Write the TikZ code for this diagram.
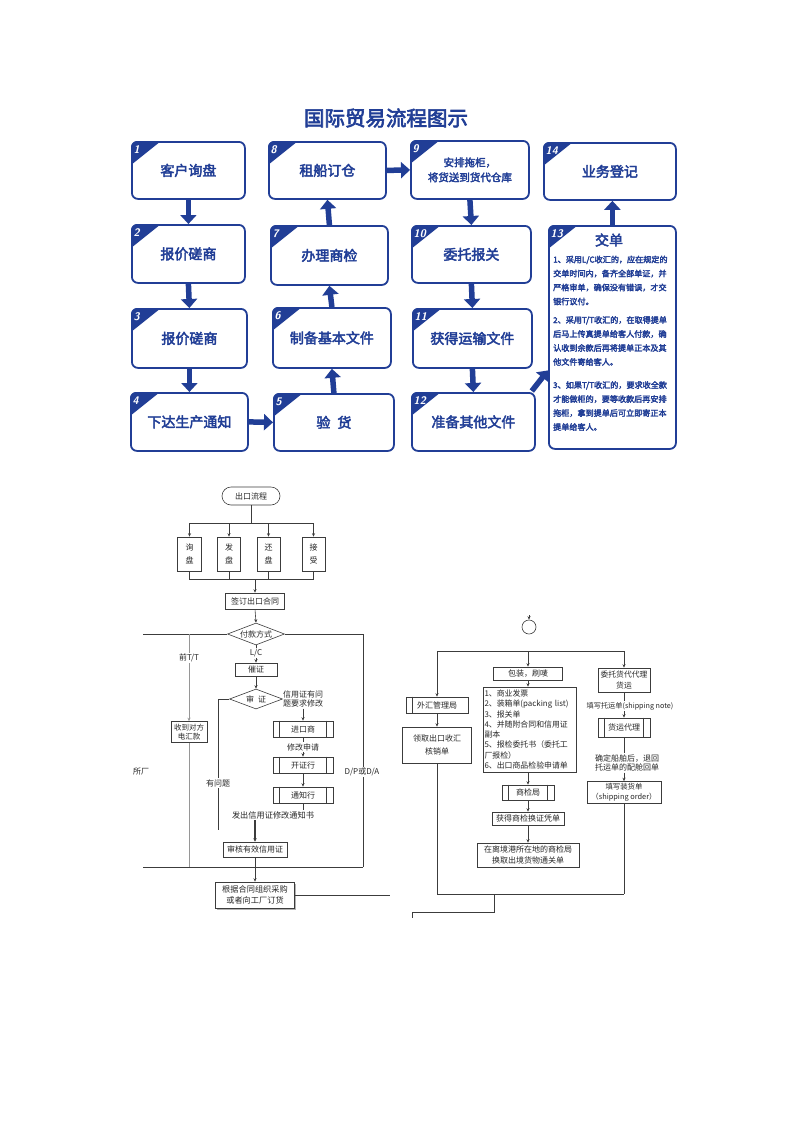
\documentclass[tikz,border=0pt]{standalone}
\usepackage{fontspec}
\setmainfont{Noto Sans CJK SC}
\newfontfamily\heavy{Noto Sans CJK SC}[FakeBold=3]
\usetikzlibrary{shapes.geometric,arrows.meta,calc,shadows}
\definecolor{tblue}{RGB}{33,62,150}
\definecolor{fline}{RGB}{60,60,60}
\definecolor{ftext}{RGB}{40,40,40}
\definecolor{gline}{RGB}{150,150,150}
\newcommand\corner[2]{%
  \begin{scope}
    \clip[rounded corners=6pt] (#1.north west) rectangle (#1.south east);
    \fill[tblue] (#1.north west) -- ++(30,0) -- ++(-30,24) -- cycle;
  \end{scope}
  \node[numlab] at ($(#1.north west)+(2.5,8.5)$) {#2};
}
\newcommand\ppbars[1]{%
  \draw[fl] ($(#1.north west)+(7,0)$) -- ($(#1.south west)+(7,0)$);
  \draw[fl] ($(#1.north east)+(-7,0)$) -- ($(#1.south east)+(-7,0)$);
}
\newcommand\ppleft[1]{%
  \draw[fl] ($(#1.north west)+(7,0)$) -- ($(#1.south west)+(7,0)$);
}
\begin{document}
\begin{tikzpicture}[x=1pt,y=-1pt,
  tbox/.style={draw=tblue, line width=1.8pt, rounded corners=6pt, fill=white,
    inner sep=0pt, text=tblue, font=\heavy\fontsize{14}{16}\selectfont, align=center, anchor=north west},
  numlab/.style={anchor=west, text=white, inner sep=0pt, font=\sffamily\bfseries\itshape\fontsize{11}{11}\selectfont},
  barrow/.style={tblue, line width=5.5pt, -{Triangle[width=16pt,length=9pt]}},
  fl/.style={draw=fline, line width=0.6pt},
  gl/.style={draw=gline, line width=0.6pt},
  farrow/.style={fl, -{Stealth[length=3.5pt,width=3pt]}},
  garrow/.style={gl, -{Stealth[length=3.5pt,width=3pt]}},
  fbox/.style={draw=fline, line width=0.6pt, fill=white, inner sep=1pt,
    font=\fontsize{8}{9.5}\selectfont, text=ftext, align=center},
  lab/.style={font=\fontsize{8}{9.5}\selectfont, text=ftext, inner sep=1pt, align=center},
  wlab/.style={lab, fill=white},
  para/.style={anchor=north west, inner sep=0pt, align=left, text=tblue,
    font=\heavy\fontsize{8.1}{14}\selectfont}
]
\path[use as bounding box, fill=white] (0,0) rectangle (793,1122);

% ---------------- top infographic ----------------
\node[font=\heavy\fontsize{20.5}{22}\selectfont, text=tblue] (title) at (386,118) {国际贸易流程图示};

\node[tbox, minimum width=113pt, minimum height=57pt] (b1) at (131,141) {客户询盘};
\node[tbox, minimum width=113pt, minimum height=58pt] (b2) at (131,224) {报价磋商};
\node[tbox, minimum width=115pt, minimum height=59pt] (b3) at (131,308) {报价磋商};
\node[tbox, minimum width=117pt, minimum height=58pt] (b4) at (130,392) {下达生产通知};
\node[tbox, minimum width=120pt, minimum height=57pt] (b5) at (273,393) {验\hspace{7pt}货};
\node[tbox, minimum width=118pt, minimum height=60pt] (b6) at (272,307) {制备基本文件};
\node[tbox, minimum width=117pt, minimum height=59pt] (b7) at (270,225) {办理商检};
\node[tbox, minimum width=117pt, minimum height=57pt] (b8) at (268,141) {租船订仓};
\node[tbox, minimum width=118pt, minimum height=58pt, font=\heavy\fontsize{10.5}{15}\selectfont] (b9) at (410,140) {安排拖柜，\\将货送到货代仓库};
\node[tbox, minimum width=119pt, minimum height=57pt] (b10) at (411,225) {委托报关};
\node[tbox, minimum width=119pt, minimum height=59pt] (b11) at (412,308) {获得运输文件};
\node[tbox, minimum width=123pt, minimum height=58pt] (b12) at (411,392) {准备其他文件};
\node[tbox, minimum width=127pt, minimum height=223pt] (b13) at (548,225) {};
\node[tbox, minimum width=132pt, minimum height=57pt] (b14) at (543,142) {业务登记};

\corner{b1}{1}\corner{b2}{2}\corner{b3}{3}\corner{b4}{4}\corner{b5}{5}
\corner{b6}{6}\corner{b7}{7}\corner{b8}{8}\corner{b9}{9}\corner{b10}{10}
\corner{b11}{11}\corner{b12}{12}\corner{b13}{13}\corner{b14}{14}

\node[text=tblue, font=\heavy\fontsize{14}{16}\selectfont] (t13) at (609,240) {交单};
\node[para] (p1) at (553,255.5) {1、采用L/C收汇的，应在规定的\\交单时间内，备齐全部单证，并\\严格审单，确保没有错误，才交\\银行议付。};
\node[para] (p2) at (553,316) {2、采用T/T收汇的，在取得提单\\后马上传真提单给客人付款，确\\认收到余款后再将提单正本及其\\他文件寄给客人。};
\node[para] (p3) at (553,381) {3、如果T/T收汇的，要求收全款\\才能做柜的，要等收款后再安排\\拖柜，拿到提单后可立即寄正本\\提单给客人。};

\draw[barrow] (b1.south) -- (b2.north);
\draw[barrow] (b2.south) -- (b3.north);
\draw[barrow] (b3.south) -- (b4.north);
\draw[barrow] (b4.east) -- (b5.west);
\draw[barrow] (b5.north) -- (b6.south);
\draw[barrow] (b6.north) -- (b7.south);
\draw[barrow] (b7.north) -- (b8.south);
\draw[barrow] (b8.east) -- (b9.west);
\draw[barrow] (b9.south) -- (b10.north);
\draw[barrow] (b10.south) -- (b11.north);
\draw[barrow] (b11.south) -- (b12.north);
\draw[barrow] ($(b12.north east)+(-4,-1)$) -- ($(b13.west)+(0,33)$);
\draw[barrow] (b13.north) -- (b13.north |- b14.south);

% ---------------- bottom-left flowchart ----------------
\node[fbox, rounded corners=9pt, minimum width=58pt, minimum height=18pt] (t0) at (251,496) {出口流程};
\coordinate (j1) at (251,523);
\coordinate (h1) at (189.5,523);
\coordinate (h4) at (313.5,523);
\draw[fl] (t0.south) -- (j1);
\draw[fl] (h1) -- (h4);
\node[fbox, minimum width=24pt, minimum height=34pt, font=\fontsize{8}{13}\selectfont] (a1) at (189.5,554) {询\\盘};
\node[fbox, minimum width=23pt, minimum height=34pt, font=\fontsize{8}{13}\selectfont] (a2) at (229,554) {发\\盘};
\node[fbox, minimum width=23pt, minimum height=34pt, font=\fontsize{8}{13}\selectfont] (a3) at (268.5,554) {还\\盘};
\node[fbox, minimum width=23pt, minimum height=34pt, font=\fontsize{8}{13}\selectfont] (a4) at (313.5,554) {接\\受};
\draw[farrow] (a1.north |- j1) -- (a1.north);
\draw[farrow] (a2.north |- j1) -- (a2.north);
\draw[farrow] (a3.north |- j1) -- (a3.north);
\draw[farrow] (a4.north |- j1) -- (a4.north);
\coordinate (j2) at (255,579);
\draw[fl] (a1.south) -- (a1.south |- j2) -- (a4.south |- j2) -- (a4.south);
\draw[fl] (a2.south) -- (a2.south |- j2);
\draw[fl] (a3.south) -- (a3.south |- j2);
\node[fbox, minimum width=59pt, minimum height=16pt] (c1) at (255,601) {签订出口合同};
\draw[farrow] (j2) -- (c1.north);
\node[fbox, shape=diamond, inner sep=0pt, aspect=2.6, minimum width=57pt, minimum height=22pt] (d1) at (256,634) {付款方式};
\draw[farrow] (c1.south) -- (d1.north);
\coordinate (L1) at (143,634);
\coordinate (R1) at (363,634);
\coordinate (R2) at (363,867);
\coordinate (L2) at (143,867);
\draw[fl] (d1.west) -- (L1);
\draw[fl] (d1.east) -- (R1) -- (R2);
\draw[fl] (L2) -- (R2);
\coordinate (g1) at (189,634);
\node[fbox, minimum width=36pt, minimum height=21pt, font=\fontsize{7.5}{9.5}\selectfont] (e1) at (189,732) {收到对方\\电汇款};
\draw[garrow] (g1) -- (e1.north);
\draw[gl] (e1.south) -- (e1.south |- L2);
\node[wlab] (lt) at (189,658) {前T/T};
\node[fbox, minimum width=42pt, minimum height=13pt] (c2) at (256,669.5) {催证};
\draw[farrow] (d1.south) -- (c2.north);
\node[wlab] (llc) at (256,653) {L/C};
\node[fbox, shape=diamond, inner sep=0pt, aspect=2.6, minimum width=53pt, minimum height=20pt] (d2) at (256,699) {审\hspace{4pt}证};
\draw[farrow] (c2.south) -- (d2.north);
\coordinate (q2) at (218,830);
\draw[fl] (d2.west) -| (q2);
\node[wlab] (lq) at (218,783) {有问题};
\node[lab] (l1) at (303,699) {信用证有问\\题要求修改};
\node[fbox, minimum width=60pt, minimum height=16pt] (c3) at (303,729) {进口商};
\ppbars{c3}
\draw[farrow] (l1.south) -- (c3.north);
\node[lab] (l2) at (303,747) {修改申请};
\node[fbox, minimum width=60pt, minimum height=16pt] (c4) at (303,765) {开证行};
\ppbars{c4}
\draw[fl] (c3.south) -- (l2.north);
\draw[farrow] (l2.south) -- (c4.north);
\node[fbox, minimum width=60pt, minimum height=16pt] (c5) at (303,795) {通知行};
\ppbars{c5}
\draw[farrow] (c4.south) -- (c5.north);
\node[lab, font=\fontsize{8.2}{9.5}\selectfont] (l3) at (273,815) {发出信用证修改通知书};
\draw[fl] (c5.south) -- (c5.south |- l3.north);
\node[fbox, minimum width=64pt, minimum height=15pt] (c6) at (255,849.5) {审核有效信用证};
\draw[fline, line width=1.1pt, -{Stealth[length=3.5pt,width=3.5pt]}] (l3.south -| c6.north) -- (c6.north);
\coordinate (j3) at (255,867);
\draw[fl] (c6.south) -- (j3);
\node[fbox, minimum width=79pt, minimum height=26pt, font=\fontsize{8.2}{10.5}\selectfont,
  drop shadow={opacity=0.6, shadow xshift=1.5pt, shadow yshift=-1.5pt}] (c7) at (255,895) {根据合同组织采购\\或者向工厂订货};
\draw[farrow] (j3) -- (c7.north);
\coordinate (E7) at (390,895);
\draw[fl] (c7.east) -- (E7);
\node[wlab] (ldp) at (362,772) {D/P或D/A};
\node[lab] (lf) at (141,772) {所厂};

% ---------------- bottom-right flowchart ----------------
\node[circle, draw=fline, line width=0.6pt, minimum size=14pt, inner sep=0pt] (o1) at (529,627) {};
\coordinate (o0) at (529,615);
\draw[farrow] (o0) -- (o1.north);
\coordinate (k1) at (437,651);
\coordinate (k2) at (624,651);
\draw[fl] (k1) -- (k2);
\node[fbox, minimum width=62pt, minimum height=16pt] (r1) at (437,705) {外汇管理局};
\ppleft{r1}
\draw[farrow] (k1) -- (r1.north);
\node[fbox, minimum width=69pt, minimum height=36pt, font=\fontsize{8}{13}\selectfont] (r2) at (437,745) {领取出口收汇\\核销单};
\draw[farrow] (r1.south) -- (r2.north);
\coordinate (k3) at (437,894);
\coordinate (k4) at (624,894);
\draw[fl] (r2.south) -- (k3) -- (k4);
\coordinate (k5) at (494,894);
\coordinate (k7) at (412,912);
\coordinate (k6) at (412,918);
\draw[fl] (k5) |- (k7) -- (k6);

\node[fbox, minimum width=69pt, minimum height=13pt] (m1) at (528,673.5) {包装，刷唛};
\draw[farrow] (k1 -| m1.north) -- (m1.north);
\node[fbox, minimum width=93pt, minimum height=85pt, text width=90pt, align=left, font=\fontsize{7.9}{10.3}\selectfont] (m2) at (529.5,729.5) {1、商业发票\\2、装箱单(packing list)\\3、报关单\\4、并随附合同和信用证\\副本\\5、报检委托书（委托工\\厂报检）\\6、出口商品检验申请单};
\draw[farrow] (m1.south) -- (m1.south |- m2.north);
\node[fbox, minimum width=52pt, minimum height=15pt] (m3) at (528,792.5) {商检局};
\ppbars{m3}
\draw[farrow] (m2.south -| m3.north) -- (m3.north);
\node[fbox, minimum width=72pt, minimum height=13pt] (m4) at (528,818.5) {获得商检换证凭单};
\draw[farrow] (m3.south) -- (m4.north);
\node[fbox, minimum width=102pt, minimum height=24pt, font=\fontsize{8}{10.5}\selectfont] (m5) at (528,855) {在离境港所在地的商检局\\换取出境货物通关单};
\draw[farrow] (m4.south) -- (m5.north);

\node[fbox, minimum width=52pt, minimum height=24pt, font=\fontsize{7.8}{10.5}\selectfont] (s1) at (624,680) {委托货代代理\\货运};
\draw[farrow] (k2) -- (s1.north);
\node[lab, font=\fontsize{7.2}{9}\selectfont] (ls1) at (630,706) {填写托运单(shipping note)};
\draw[fl] (s1.south) -- (s1.south |- ls1.north);
\node[fbox, minimum width=52pt, minimum height=19pt] (s2) at (624,727.5) {货运代理};
\ppbars{s2}
\draw[farrow] (ls1.south -| s2.north) -- (s2.north);
\node[lab] (ls2) at (627,763) {确定船舶后，退回\\托运单的配舱回单};
\draw[fl] (s2.south) -- (s2.south |- ls2.north);
\node[fbox, minimum width=74pt, minimum height=22pt, font=\fontsize{7.4}{9.5}\selectfont] (s3) at (624,792.5) {填写装货单\\（shipping order）};
\draw[farrow] (ls2.south -| s3.north) -- (s3.north);
\draw[fl] (s3.south) -- (k4);
\end{tikzpicture}
\end{document}
